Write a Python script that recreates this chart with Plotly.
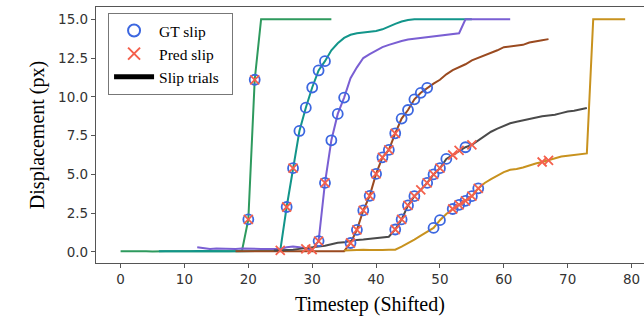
import plotly.graph_objects as go

# ---- data ----
green_x = list(range(0, 34))
green_y = [0.05, 0.06, 0.04, 0.07, 0.05, 0.03, 0.06, 0.05, 0.04, 0.06, 0.05, 0.04, 0.05, 0.06, 0.04,
           0.05, 0.05, 0.04, 0.05, 0.06, 2.1, 11.1] + [15.0] * 12

teal_x = list(range(6, 56))
teal_y = [0.05, 0.04, 0.06, 0.05, 0.04, 0.05, 0.06, 0.05, 0.04, 0.05, 0.06, 0.05, 0.04, 0.05, 0.06,
          0.05, 0.04, 0.05, 0.06, 0.1, 2.9, 5.4, 7.8, 9.3, 10.6, 11.7, 12.3, 13.0, 13.45, 13.8,
          14.0, 14.1, 14.15, 14.2, 14.25, 14.35, 14.55, 14.7, 14.85, 14.95] + [15.0] * 10

purple_x = list(range(12, 62))
purple_y = [0.3, 0.25, 0.2, 0.22, 0.2, 0.18, 0.2, 0.22, 0.2, 0.18, 0.2, 0.2, 0.22, 0.2, 0.3, 0.35,
            0.3, 0.2, 0.15, 0.7, 4.45, 7.2, 8.9, 9.95, 11.2, 11.9, 12.5, 12.75, 13.0, 13.2, 13.35,
            13.5, 13.6, 13.7, 13.75, 13.8, 13.85, 13.9, 13.95, 14.0, 14.05, 14.1] + [15.0] * 8

brown_x = list(range(18, 68))
brown_y = [0.05, 0.04, 0.05, 0.06, 0.05, 0.04, 0.05, 0.04, 0.05, 0.06, 0.05, 0.04, 0.05, 0.04, 0.03,
           0.05, 0.04, 0.05, 0.58, 1.43, 2.68, 3.62, 5.03, 6.1, 6.58, 7.65, 8.6, 9.15, 9.84, 10.26,
           10.58, 10.85, 11.1, 11.45, 11.72, 11.9, 12.1, 12.35, 12.5, 12.7, 12.85, 13.0, 13.2,
           13.25, 13.3, 13.35, 13.5, 13.6, 13.65, 13.72]

gray_x = list(range(24, 74))
gray_y = [0.1, 0.12, 0.1, 0.15, 0.2, 0.25, 0.3, 0.35, 0.4, 0.5, 0.6, 0.62, 0.72, 0.78, 0.8, 0.85,
          0.88, 0.92, 0.98, 1.45, 2.1, 3.0, 3.6, 4.0, 4.45, 5.0, 5.4, 6.0, 6.25, 6.55, 6.75, 6.9,
          7.2, 7.5, 7.75, 7.95, 8.15, 8.3, 8.4, 8.5, 8.55, 8.65, 8.75, 8.8, 8.85, 8.95, 9.05, 9.1,
          9.2, 9.28]

gold_x = list(range(35, 80))
gold_y = [0.1, 0.12, 0.1, 0.15, 0.12, 0.1, 0.12, 0.15, 0.15, 0.35, 0.55, 0.8, 1.05, 1.3, 1.55,
          2.05, 2.45, 2.77, 3.04, 3.3, 3.6, 4.1, 4.45, 4.7, 4.95, 5.15, 5.3, 5.35, 5.45, 5.6, 5.7,
          5.8, 5.9, 6.05, 6.15, 6.2, 6.25, 6.3, 6.35] + [15.0] * 6

series_names = ["green", "teal", "purple", "brown", "gray", "gold"]
series_colors = ["#2e9a5e", "#12958a", "#7a5fd3", "#9a4a20", "#4a4a4a", "#c8921e"]
series_x = [green_x, teal_x, purple_x, brown_x, gray_x, gold_x]
series_y = [green_y, teal_y, purple_y, brown_y, gray_y, gold_y]

gt_steps = [[20, 21], list(range(26, 33)), list(range(31, 36)), list(range(36, 49)),
            [43, 44, 45, 46, 48, 49, 50, 51, 54], [49, 50, 52, 53, 54, 55, 56]]
pred_steps = [[20, 21], [25, 26, 27], [29, 30, 31, 32], list(range(36, 44)),
              [43, 44, 45, 46, 47, 48, 49, 50, 52, 53, 55], [52, 53, 54, 55, 56, 66, 67]]

x_ticks = [0, 10, 20, 30, 40, 50, 60, 70, 80]
y_ticks = [0.0, 2.5, 5.0, 7.5, 10.0, 12.5, 15.0]

legend_labels = ["GT slip", "Pred slip", "Slip trials"]

GT_COLOR = "#3c67e0"
PRED_COLOR = "#f4604c"

fig = go.Figure()

for xs, ys, c in zip(series_x, series_y, series_colors):
    fig.add_trace(go.Scatter(x=xs, y=ys, mode="lines", line=dict(color=c, width=2),
                             showlegend=False, hoverinfo="skip"))

def lookup(xs, ys, steps):
    d = dict(zip(xs, ys))
    return [d[s] for s in steps]

for xs, ys, steps in zip(series_x, series_y, gt_steps):
    fig.add_trace(go.Scatter(x=steps, y=lookup(xs, ys, steps), mode="markers",
                             marker=dict(symbol="circle-open", size=10, color=GT_COLOR,
                                         line=dict(width=1.8, color=GT_COLOR)),
                             showlegend=False))
for xs, ys, steps in zip(series_x, series_y, pred_steps):
    fig.add_trace(go.Scatter(x=steps, y=lookup(xs, ys, steps), mode="markers",
                             marker=dict(symbol="x-thin-open", size=9, color=PRED_COLOR,
                                         line=dict(width=1.8, color=PRED_COLOR)),
                             showlegend=False))

# legend entries
fig.add_trace(go.Scatter(x=[None], y=[None], mode="markers", name=legend_labels[0],
                         marker=dict(symbol="circle-open", size=10, color=GT_COLOR,
                                     line=dict(width=1.8, color=GT_COLOR))))
fig.add_trace(go.Scatter(x=[None], y=[None], mode="markers", name=legend_labels[1],
                         marker=dict(symbol="x-thin-open", size=10, color=PRED_COLOR,
                                     line=dict(width=1.8, color=PRED_COLOR))))
fig.add_trace(go.Scatter(x=[None], y=[None], mode="lines", name=legend_labels[2] + "\u00a0\u00a0",
                         line=dict(color="black", width=2)))

axis_common = dict(showgrid=False, zeroline=False, showline=True, linecolor="#555",
                   linewidth=1.3, ticks="outside", ticklen=4, tickwidth=1.2, tickcolor="#555",
                   automargin=False,
                   tickfont=dict(family="DejaVu Sans", size=13.5, color="#333"))

fig.update_xaxes(range=[-3.85, 81.95], tickvals=x_ticks, ticktext=[str(t) for t in x_ticks],
                 mirror=True, title=dict(text="Timestep (Shifted)", standoff=10,
                                         font=dict(family="Liberation Serif", size=20, color="black")),
                 **axis_common)
fig.update_yaxes(range=[-0.71, 15.79], tickvals=y_ticks, ticktext=[f"{t:.1f}" for t in y_ticks],
                 title=dict(text="Displacement (px)", standoff=8,
                            font=dict(family="Liberation Serif", size=20, color="black")),
                 **axis_common)

fig.update_layout(
    width=644, height=329,
    margin=dict(l=96, r=0, t=7, b=66),
    plot_bgcolor="white", paper_bgcolor="white",
    legend=dict(x=0.022, y=0.977, xanchor="left", yanchor="top",
                bordercolor="#777", borderwidth=1, bgcolor="white",
                font=dict(family="Liberation Serif", size=15.5, color="black"),
                itemsizing="constant", itemwidth=40, tracegroupgap=0),
)

fig.write_html("out.html", config={"displayModeBar": False},
               post_script="document.body.style.margin='0';document.body.style.padding='0';")
